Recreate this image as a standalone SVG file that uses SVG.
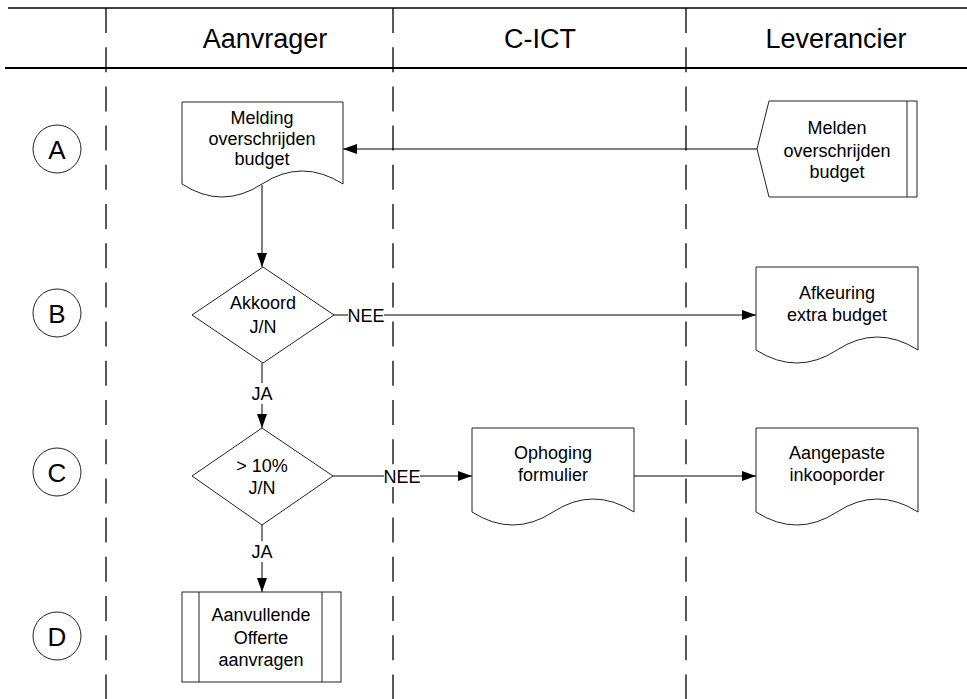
<svg xmlns="http://www.w3.org/2000/svg" width="967" height="699" viewBox="0 0 967 699">
<defs>
<style>
.t{font-family:"Liberation Sans",Arial,sans-serif;font-size:18px;fill:#000;text-anchor:middle}
.h{font-family:"Liberation Sans",Arial,sans-serif;font-size:27px;fill:#000;text-anchor:middle}
.c{font-family:"Liberation Sans",Arial,sans-serif;font-size:26px;fill:#000;text-anchor:middle}
.s{fill:#fff;stroke:#222;stroke-width:1}
.lane{stroke:#000;stroke-width:1.3;fill:none}
.dash{stroke:#000;stroke-width:1.3;stroke-dasharray:25 14.2;fill:none}
.cn{stroke:#000;stroke-width:1;fill:none}
</style>
<marker id="ah" viewBox="0 0 14 10" refX="14" refY="5" markerWidth="14" markerHeight="10" markerUnits="userSpaceOnUse" orient="auto">
<path d="M0,0 L14,5 L0,10 Z" fill="#000"/>
</marker>
</defs>
<rect width="967" height="699" fill="#fff"/>
<g id="lanes">
<line class="lane" x1="8" y1="8" x2="967" y2="8"/>
<line class="lane" x1="5" y1="68" x2="967" y2="68" style="stroke-width:2"/>
<line class="dash" x1="106" y1="8" x2="106" y2="699"/>
<line class="dash" x1="393" y1="8" x2="393" y2="699"/>
<line class="dash" x1="686" y1="8" x2="686" y2="699"/>
<text class="h" x="265" y="48">Aanvrager</text>
<text class="h" x="540" y="48">C-ICT</text>
<text class="h" x="836" y="48">Leverancier</text>
</g>
<g id="phases">
<circle class="s" cx="57" cy="149" r="24"/><text class="c" x="57" y="158.5">A</text>
<circle class="s" cx="57" cy="313" r="24"/><text class="c" x="57" y="322.5">B</text>
<circle class="s" cx="57" cy="472" r="24"/><text class="c" x="57" y="481.5">C</text>
<circle class="s" cx="57" cy="636" r="24"/><text class="c" x="57" y="645.5">D</text>
</g>
<g id="connectors">
<line class="cn" x1="757" y1="149" x2="343" y2="149" marker-end="url(#ah)"/>
<line class="cn" x1="262" y1="185" x2="262" y2="267" marker-end="url(#ah)"/>
<line class="cn" x1="334" y1="315" x2="756" y2="315" marker-end="url(#ah)"/>
<line class="cn" x1="262" y1="363" x2="262" y2="428" marker-end="url(#ah)"/>
<line class="cn" x1="333" y1="476" x2="472" y2="476" marker-end="url(#ah)"/>
<line class="cn" x1="634" y1="476" x2="756" y2="476" marker-end="url(#ah)"/>
<line class="cn" x1="262" y1="525" x2="262" y2="592" marker-end="url(#ah)"/>
<rect x="348" y="304" width="36" height="22" fill="#fff"/>
<text class="t" x="366" y="321.5">NEE</text>
<rect x="249" y="383" width="26" height="21" fill="#fff"/>
<text class="t" x="262" y="399.5">JA</text>
<rect x="384" y="465" width="36" height="22" fill="#fff"/>
<text class="t" x="402" y="482.5">NEE</text>
<rect x="249" y="541" width="26" height="21" fill="#fff"/>
<text class="t" x="262" y="557.5">JA</text>
</g>
<g id="melding">
<path class="s" d="M182,102 H343 V184 Q302,158 262,184 T182,184 Z"/>
<text class="t" x="262" y="124">Melding</text>
<text class="t" x="262" y="144.5">overschrijden</text>
<text class="t" x="262" y="165">budget</text>
</g>
<g id="melden">
<path class="s" d="M769,101 H917 V197 H769 L757,149 Z"/>
<line class="s" x1="907" y1="101" x2="907" y2="197"/>
<text class="t" x="837" y="134">Melden</text>
<text class="t" x="837" y="156.5">overschrijden</text>
<text class="t" x="837" y="178">budget</text>
</g>
<g id="akkoord">
<path class="s" d="M263,267 L334,315 L263,363 L192,315 Z"/>
<text class="t" x="263" y="309">Akkoord</text>
<text class="t" x="263" y="333">J/N</text>
</g>
<g id="afkeuring">
<path class="s" d="M756,267 H918 V350 Q877,324 837,350 T756,350 Z"/>
<text class="t" x="837" y="299">Afkeuring</text>
<text class="t" x="837" y="321">extra budget</text>
</g>
<g id="tienprocent">
<path class="s" d="M262,428 L333,476 L262,525 L192,476 Z"/>
<text class="t" x="262" y="472">&gt; 10%</text>
<text class="t" x="262" y="494">J/N</text>
</g>
<g id="ophoging">
<path class="s" d="M472,428 H634 V512 Q593,486 553,512 T472,512 Z"/>
<text class="t" x="553" y="459">Ophoging</text>
<text class="t" x="553" y="481">formulier</text>
</g>
<g id="aangepaste">
<path class="s" d="M756,428 H918 V512 Q877,486 837,512 T756,512 Z"/>
<text class="t" x="837" y="459">Aangepaste</text>
<text class="t" x="837" y="481">inkooporder</text>
</g>
<g id="aanvullende">
<rect class="s" x="182" y="592" width="159" height="90"/>
<line class="s" x1="199" y1="592" x2="199" y2="682"/>
<line class="s" x1="322" y1="592" x2="322" y2="682"/>
<text class="t" x="261" y="621">Aanvullende</text>
<text class="t" x="261" y="644">Offerte</text>
<text class="t" x="261" y="666">aanvragen</text>
</g>
</svg>
